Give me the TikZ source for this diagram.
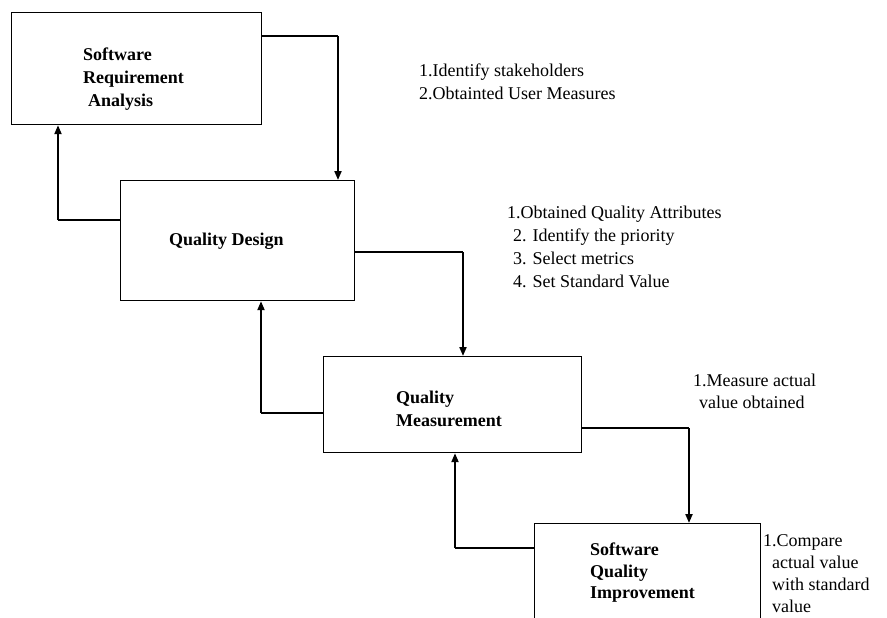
\documentclass[tikz,border=0pt]{standalone}
\usepackage{fontspec}
\setmainfont{Liberation Serif}
\usetikzlibrary{arrows.meta}
\begin{document}
\begin{tikzpicture}[x=1pt,y=-1pt,
  box/.style={draw, line width=1.2pt, inner sep=0pt, anchor=north west},
  lbl/.style={font=\fontsize{18}{23}\selectfont\bfseries, inner sep=0pt, align=left, anchor=north west},
  note/.style={font=\fontsize{18}{22.5}\selectfont, inner sep=0pt, align=left, anchor=north west},
  hline/.style={line width=1.2pt},
  varrow/.style={line width=2pt, -{Triangle[length=9pt,width=7pt]}}]
\useasboundingbox (0,0) rectangle (887,618);
\clip (0,0) rectangle (887,618);
% boxes
\node[box, minimum width=250pt, minimum height=112pt] (b1) at (11,12) {};
\node[box, minimum width=234pt, minimum height=120pt] (b2) at (120,180) {};
\node[box, minimum width=258pt, minimum height=96pt] (b3) at (323,356) {};
\node[box, minimum width=226pt, minimum height=130pt] (b4) at (534,523) {};
% box texts
\node[lbl] (t1) at (83,47.5) {Software\\Requirement\\\hspace*{5pt}Analysis};
\node[lbl, anchor=base west] (t2) at (169,245) {Quality Design};
\node[lbl] (t3) at (396,390.7) {Quality\\Measurement};
\node[lbl, font=\fontsize{18}{21.5}\selectfont\bfseries] (t4) at (590,542.7) {Software\\Quality\\Improvement};
% notes
\node[note] (n1) at (419,63.7) {1.Identify stakeholders\\2.Obtainted User Measures};
\node[note, font=\fontsize{18}{23}\selectfont] (n2) at (507,205.7) {1.Obtained Quality Attributes\\\hspace*{6pt}2. Identify the priority\\\hspace*{6pt}3. Select metrics\\\hspace*{6pt}4. Set Standard Value};
\node[note] (n3) at (693,373.7) {1.Measure actual\\\hspace*{6pt}value obtained};
\node[note, font=\fontsize{18}{22}\selectfont] (n4) at (763,534.7) {1.Compare\\\hspace*{9pt}actual value\\\hspace*{9pt}with standard\\\hspace*{9pt}value};
% connectors
\coordinate (c1) at (338,36);
\coordinate (c2) at (58,220);
\coordinate (c3) at (463,252);
\coordinate (c4) at (261,413);
\coordinate (c5) at (689,428);
\coordinate (c6) at (455,548);
\draw[hline] (b1.east |- c1) -- (c1);
\draw[varrow] (c1) -- (c1 |- b2.north);
\draw[hline] (b2.west |- c2) -- (c2);
\draw[varrow] (c2) -- (c2 |- b1.south);
\draw[hline] (b2.east |- c3) -- (c3);
\draw[varrow] (c3) -- (c3 |- b3.north);
\draw[hline] (b3.west |- c4) -- (c4);
\draw[varrow] (c4) -- (c4 |- b2.south);
\draw[hline] (b3.east |- c5) -- (c5);
\draw[varrow] (c5) -- (c5 |- b4.north);
\draw[hline] (b4.west |- c6) -- (c6);
\draw[varrow] (c6) -- (c6 |- b3.south);
\end{tikzpicture}
\end{document}
